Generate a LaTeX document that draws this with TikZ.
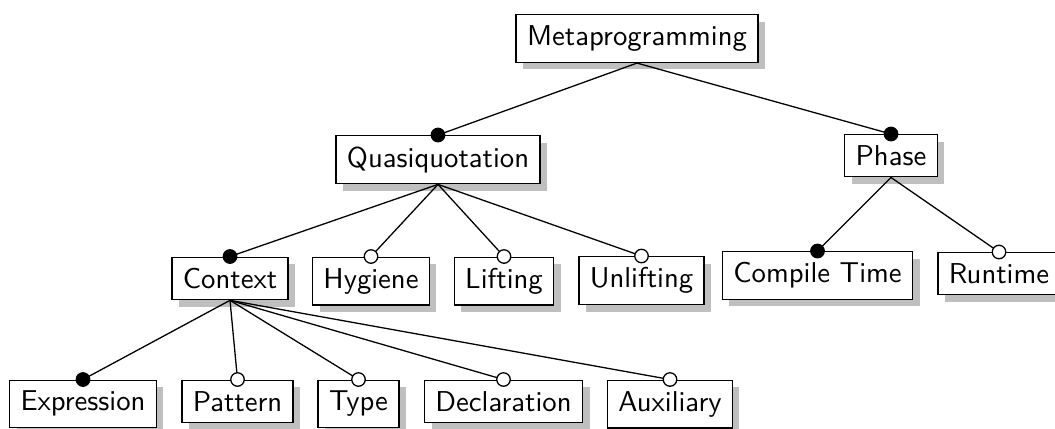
\documentclass[tikz,border=0pt]{standalone}
\usepackage{fontspec}
\usetikzlibrary{shadows}
\tikzset{
  feat/.style={draw, line width=0.5pt, fill=white, inner sep=3.8pt, anchor=north,
    font=\sffamily,
    drop shadow={shadow xshift=2.45pt, shadow yshift=-2.45pt, fill=black!25, opacity=1}},
  link/.style={line width=0.45pt},
  mand/.style={circle, draw=black, fill=black, line width=0.45pt, inner sep=0pt, minimum size=4.7pt},
  opt/.style={circle, draw=black, fill=white, line width=0.45pt, inner sep=0pt, minimum size=4.7pt}
}
\begin{document}
\begin{tikzpicture}[x=0.3484pt, y=-0.3484pt]
\useasboundingbox (0,0) rectangle (1055,428);
% nodes
\node[feat] (meta) at (637,14) {Metaprogramming};
\node[feat] (quasi) at (438,135) {Quasiquotation};
\node[feat] (phase) at (891,134) {Phase};
\node[feat] (ctx) at (230,256.5) {Context};
\node[feat] (hyg) at (371,256.5) {Hygiene};
\node[feat] (lift) at (504,256.5) {Lifting};
\node[feat] (unlift) at (641.5,256) {Unlifting};
\node[feat] (ct) at (817.5,251) {Compile Time};
\node[feat] (rt) at (999,252) {Runtime};
\node[feat] (expr) at (83,379.5) {Expression};
\node[feat] (pat) at (237.5,379.5) {Pattern};
\node[feat] (typ) at (358.5,379.5) {Type};
\node[feat] (decl) at (503.5,379.5) {Declaration};
\node[feat] (aux) at (670,379.5) {Auxiliary};
% connectors
\draw[link] (meta.south) -- (quasi.north);
\draw[link] (meta.south) -- (phase.north);
\draw[link] (quasi.south) -- (ctx.north);
\draw[link] (quasi.south) -- (hyg.north);
\draw[link] (quasi.south) -- (lift.north);
\draw[link] (quasi.south) -- (unlift.north);
\draw[link] (phase.south) -- (ct.north);
\draw[link] (phase.south) -- (rt.north);
\draw[link] (ctx.south) -- (expr.north);
\draw[link] (ctx.south) -- (pat.north);
\draw[link] (ctx.south) -- (typ.north);
\draw[link] (ctx.south) -- (decl.north);
\draw[link] (ctx.south) -- (aux.north);
% markers
\node[mand] (mq) at (quasi.north) {};
\node[mand] (mp) at (phase.north) {};
\node[mand] (mc) at (ctx.north) {};
\node[opt] (oh) at (hyg.north) {};
\node[opt] (ol) at (lift.north) {};
\node[opt] (ou) at (unlift.north) {};
\node[mand] (mct) at (ct.north) {};
\node[opt] (ort) at (rt.north) {};
\node[mand] (me) at (expr.north) {};
\node[opt] (op) at (pat.north) {};
\node[opt] (ot) at (typ.north) {};
\node[opt] (od) at (decl.north) {};
\node[opt] (oa) at (aux.north) {};
\end{tikzpicture}
\end{document}
